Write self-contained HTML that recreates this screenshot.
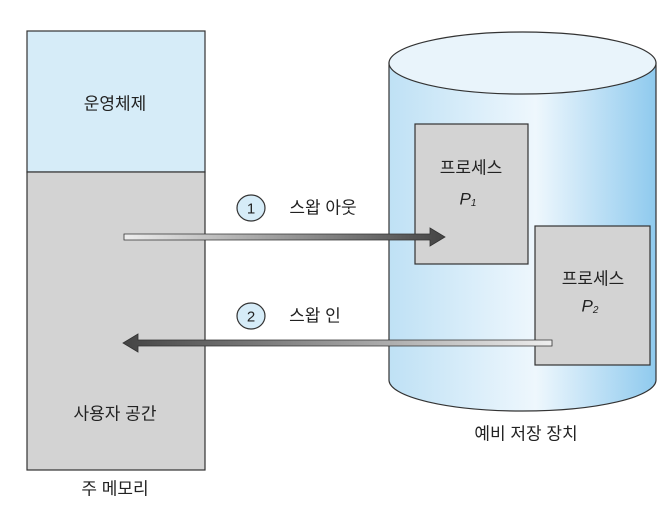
<!DOCTYPE html>
<html><head><meta charset="utf-8"><style>
html,body{margin:0;padding:0;background:#fff;}
svg text{font-family:"Liberation Sans","Noto Sans CJK KR",sans-serif;fill:#222;}
</style></head><body>
<svg width="665" height="501" viewBox="0 0 665 501" xmlns="http://www.w3.org/2000/svg">
<defs>
<linearGradient id="cyl" x1="0" x2="1" y1="0" y2="0">
<stop offset="0" stop-color="#bfe1f5"/><stop offset="0.55" stop-color="#eef7fd"/><stop offset="1" stop-color="#8fcaee"/>
</linearGradient>
<linearGradient id="a1" x1="0" x2="1"><stop offset="0" stop-color="#eeeeee"/><stop offset="1" stop-color="#444"/></linearGradient>
<linearGradient id="a2" x1="1" x2="0"><stop offset="0" stop-color="#eeeeee"/><stop offset="1" stop-color="#444"/></linearGradient>
</defs>
<rect x="27" y="31" width="178" height="141" fill="#d6ecf8" stroke="#333" stroke-width="1.2"/>
<rect x="27" y="172" width="178" height="298" fill="#d3d3d3" stroke="#333" stroke-width="1.2"/>
<path d="M389 63 L389 380 A133.5 31 0 0 0 656 380 L656 63 Z" fill="url(#cyl)" stroke="#333" stroke-width="1.2"/>
<ellipse cx="522.5" cy="63" rx="133.5" ry="31" fill="#e9f4fb" stroke="#333" stroke-width="1.2"/>
<rect x="415" y="124" width="113" height="140" fill="#d3d3d3" stroke="#333" stroke-width="1.2"/>
<rect x="535" y="226" width="115" height="139" fill="#d3d3d3" stroke="#333" stroke-width="1.2"/>
<path d="M124 234 L430 234 L430 228 L445 237 L430 246 L430 240 L124 240 Z" fill="url(#a1)" stroke="#333" stroke-width="0.8"/>
<path d="M552 340 L138 340 L138 334 L123 343 L138 352 L138 346 L552 346 Z" fill="url(#a2)" stroke="#333" stroke-width="0.8"/>
<ellipse cx="251" cy="208" rx="14" ry="13" fill="#d6ecf8" stroke="#333" stroke-width="1.2"/>
<ellipse cx="251" cy="316" rx="14" ry="13" fill="#d6ecf8" stroke="#333" stroke-width="1.2"/>
<g font-size="17" text-anchor="middle" dominant-baseline="central">
<text x="251" y="209" font-size="15">1</text>
<text x="251" y="317" font-size="15">2</text>
<text x="323" y="208">스왑 아웃</text>
<text x="315" y="316">스왑 인</text>
<text x="115" y="104">운영체제</text>
<text x="115" y="414">사용자 공간</text>
<text x="115" y="489">주 메모리</text>
<text x="526" y="434">예비 저장 장치</text>
<text x="471" y="168">프로세스</text>
<text x="593" y="279">프로세스</text>
<text x="468" y="199" font-style="italic">P<tspan font-size="10" dy="4">1</tspan></text>
<text x="590" y="306" font-style="italic">P<tspan font-size="10" dy="4">2</tspan></text>
</g>
</svg>
</body></html>
